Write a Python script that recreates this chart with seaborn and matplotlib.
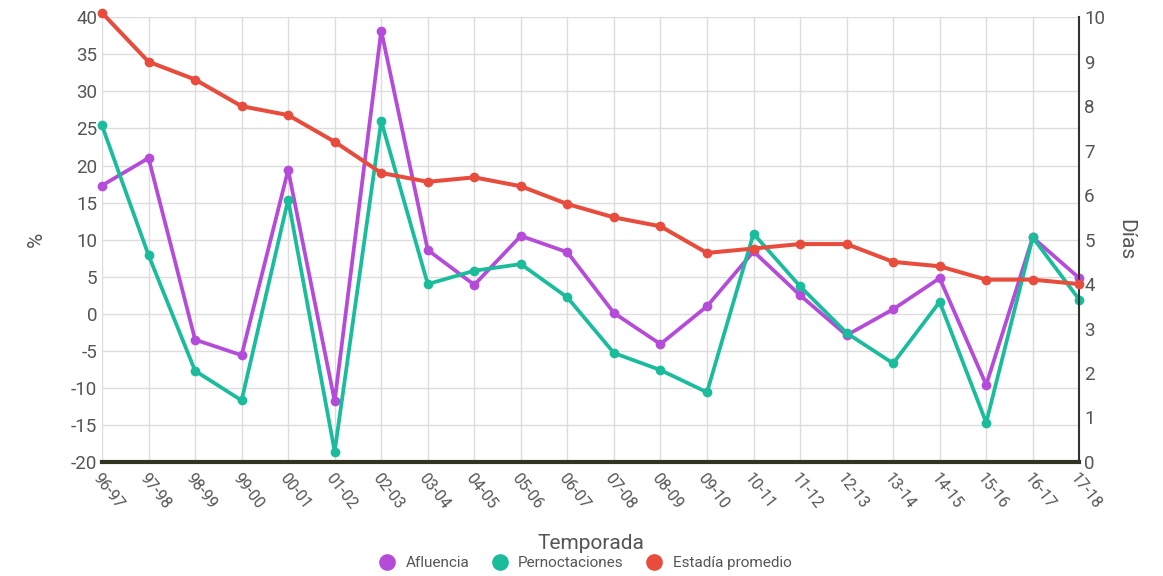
import pandas as pd
import matplotlib
matplotlib.use("Agg")
import matplotlib.pyplot as plt
import seaborn as sns
from matplotlib.lines import Line2D

sns.set_style("whitegrid")
plt.rcParams['font.family'] = ['Roboto', 'DejaVu Sans']
plt.rcParams['axes.unicode_minus'] = False

temporadas = ["96-97", "97-98", "98-99", "99-00", "00-01", "01-02", "02-03", "03-04",
              "04-05", "05-06", "06-07", "07-08", "08-09", "09-10", "10-11", "11-12",
              "12-13", "13-14", "14-15", "15-16", "16-17", "17-18"]
afluencia = [17.3, 21.0, -3.5, -5.6, 19.4, -11.8, 38.2, 8.6, 3.9, 10.5, 8.3, 0.1,
             -4.1, 1.0, 8.4, 2.5, -2.9, 0.6, 4.8, -9.6, 10.3, 4.8]
pernoctaciones = [25.4, 7.9, -7.7, -11.7, 15.4, -18.6, 26.0, 4.0, 5.8, 6.7, 2.2, -5.3,
                  -7.6, -10.6, 10.8, 3.7, -2.6, -6.7, 1.6, -14.7, 10.3, 1.9]
estadia = [10.1, 9.0, 8.6, 8.0, 7.8, 7.2, 6.5, 6.3, 6.4, 6.2, 5.8, 5.5, 5.3, 4.7,
           4.8, 4.9, 4.9, 4.5, 4.4, 4.1, 4.1, 4.0]

colors = {"Afluencia": "#b44bd9", "Pernoctaciones": "#1abc9c", "Estadía promedio": "#e74c3c"}
text_color = "#555555"

pct = pd.DataFrame({
    "Temporada": temporadas * 2,
    "x": list(range(len(temporadas))) * 2,
    "valor": afluencia + pernoctaciones,
    "serie": ["Afluencia"] * len(temporadas) + ["Pernoctaciones"] * len(temporadas),
})
dias = pd.DataFrame({"x": range(len(temporadas)), "valor": estadia})

fig = plt.figure(figsize=(11.63, 5.76), dpi=100)
ax = fig.add_axes([0.0877, 0.198, 0.8403, 0.772])

sns.lineplot(data=pct, x="x", y="valor", hue="serie", palette=colors, marker="o",
             markersize=7, markeredgewidth=0, linewidth=2.7, ax=ax, legend=False,
             clip_on=False, zorder=3)

ax2 = ax.twinx()
sns.lineplot(data=dias, x="x", y="valor", color=colors["Estadía promedio"], marker="o",
             markersize=7, markeredgewidth=0, linewidth=2.9, ax=ax2, clip_on=False, zorder=4)

ax.set_xlim(0, len(temporadas) - 1)
ax.set_ylim(-20, 40)
ax.set_yticks(range(-20, 41, 5))
ax2.set_ylim(0, 10)
ax2.set_yticks(range(0, 11))
ax2.grid(False)

ax.set_xticks(range(len(temporadas)))
ax.set_xticklabels(temporadas, rotation=-52, ha="left", rotation_mode="anchor")
ax.grid(True, color="#dddddd", linewidth=1)

for a in (ax, ax2):
    for s in a.spines.values():
        s.set_visible(False)
    a.tick_params(length=0, labelsize=13.5, colors=text_color)
ax2.spines["right"].set_visible(True)
ax2.spines["right"].set_color("#333333")
ax2.spines["right"].set_linewidth(1.5)
ax.spines["bottom"].set_visible(True)
ax.spines["bottom"].set_color("#333322")
ax.spines["bottom"].set_linewidth(3)
ax.tick_params(axis="x", labelsize=11.5, pad=6)

ax.set_xlabel("Temporada", fontsize=15, color=text_color, labelpad=16)
ax.set_ylabel("%", fontsize=15, color=text_color, labelpad=18)
ax2.set_ylabel("Días", fontsize=15, color=text_color, rotation=270, labelpad=22)

handles = [Line2D([], [], marker="o", linestyle="", markersize=12, color=c,
                  markeredgewidth=0) for c in colors.values()]
fig.legend(handles, list(colors.keys()), loc="lower center", ncol=3, frameon=False,
           bbox_to_anchor=(0.5, -0.014), fontsize=11, handletextpad=0.2,
           columnspacing=1.0, labelcolor=text_color)

fig.savefig("out.png", dpi=100)
